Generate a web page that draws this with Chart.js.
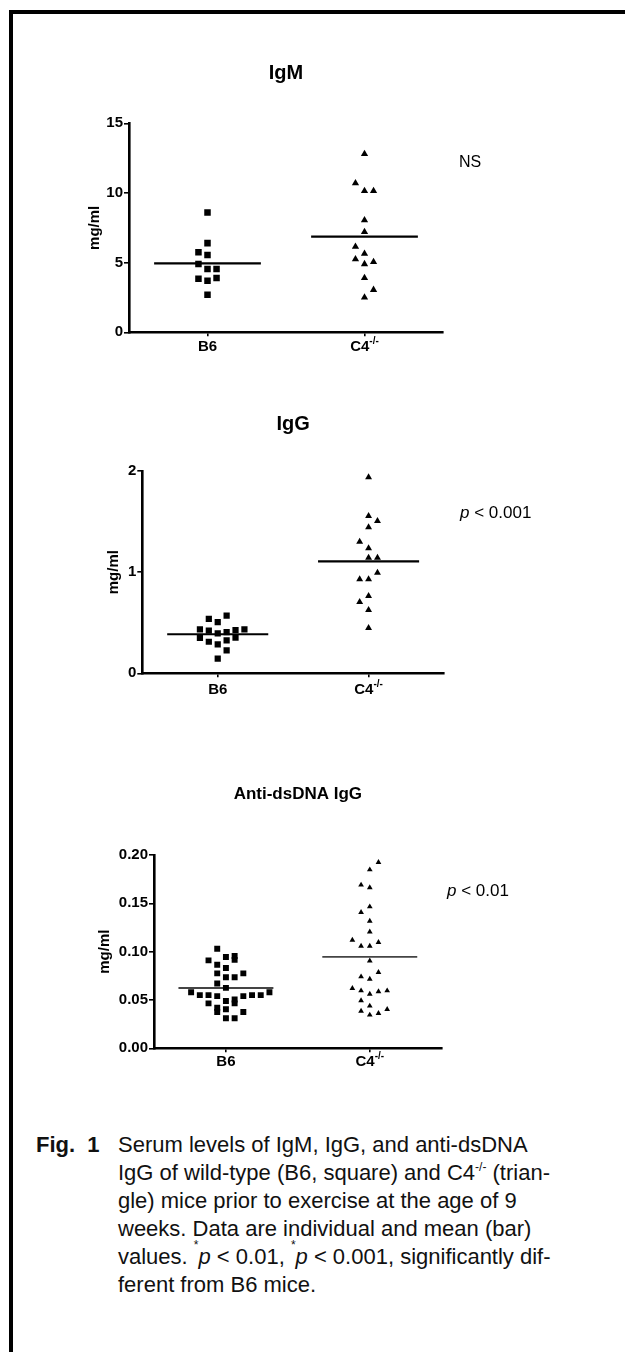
<!DOCTYPE html>
<html>
<head>
<meta charset="utf-8">
<title>Serum IgM, IgG and anti-dsDNA IgG</title>
<script src="https://cdn.jsdelivr.net/npm/chart.js@4.4.1/dist/chart.umd.min.js"></script>
<style>
  html, body { margin: 0; padding: 0; background: #fff; }
  body { position: relative; width: 625px; height: 1352px; overflow: hidden;
         font-family: "Liberation Sans", Arial, sans-serif; color: #000; }
  #frame { position: absolute; left: 9px; top: 10px; width: 650px; height: 1400px;
           border-top: 4px solid #000; border-left: 4px solid #000; }
  canvas { position: absolute; left: 0; }
  #caption { position: absolute; top: 1131px; left: 0; width: 625px; font-size: 22px;
             line-height: 28px; color: #111; white-space: nowrap; }
  #caption .fig { position: absolute; left: 36px; top: 0; font-weight: bold; }
  #caption .body { position: absolute; left: 118px; top: 0; }
  sup { font-size: 12px; line-height: 0; vertical-align: 9px; }
  sup.ast { vertical-align: 15px; }
</style>
</head>
<body>
<div id="frame"></div>
<canvas id="igm" width="625" height="340" style="top:30px"></canvas>
<canvas id="igg" width="625" height="330" style="top:380px"></canvas>
<canvas id="dsdna" width="625" height="340" style="top:740px"></canvas>
<div id="caption">
  <span class="fig">Fig.&nbsp; 1</span>
  <div class="body">Serum levels of IgM, IgG, and anti-dsDNA<br>IgG of wild-type (B6, square) and C4<sup>-/-</sup> (trian-<br>gle) mice prior to exercise at the age of 9<br>weeks. Data are individual and mean (bar)<br>values. <sup class="ast">*</sup><i>p</i> &lt; 0.01, <sup class="ast">*</sup><i>p</i> &lt; 0.001, significantly dif-<br>ferent from B6 mice.</div>
</div>
<script>
const FONT = '"Liberation Sans", Arial, sans-serif';

// groups on the x axis
const groups = ['B6', 'C4'];
const groupSup = ['', '-/-'];

// IgM (mg/ml)
const igmTicks = [0, 5, 10, 15];
const igmB6 = [8.6, 6.4, 5.75, 5.55, 4.9, 4.55, 4.55, 3.85, 3.9, 3.7, 2.7];
const igmB6Lane = [0, 0, -1, 0, -1, 0, 1, -1, 1, 0, 0];
const igmC4 = [12.8, 10.7, 10.15, 10.15, 8.05, 7.2, 6.15, 5.65, 5.25, 5.05, 4.9, 3.9, 3.05, 2.5];
const igmC4Lane = [0, -1, 0, 1, 0, 0, -1, 0, -1, 1, 0, 0, 1, 0];
const igmMean = [4.95, 6.86];

// IgG (mg/ml)
const iggTicks = [0, 1, 2];
const iggB6 = [0.537, 0.507, 0.57, 0.435, 0.421, 0.395, 0.408, 0.428, 0.435, 0.349, 0.312, 0.287, 0.326, 0.352, 0.227, 0.144];
const iggB6Lane = [-1, 0, 1, -2, -1, 0, 1, 2, 3, -2, -1, 0, 1, 2, 1, 0];
const iggC4 = [1.937, 1.555, 1.506, 1.443, 1.301, 1.236, 1.143, 1.143, 0.995, 0.929, 0.929, 0.764, 0.705, 0.626, 0.448];
const iggC4Lane = [0, 0, 1, 0, -1, 0, 0, 1, 1, -1, 0, 0, -1, 0, 0];
const iggMean = [0.386, 1.107];

// Anti-dsDNA IgG (mg/ml)
const dsTicks = [0, 0.05, 0.1, 0.15, 0.2];
const dsB6 = [0.103, 0.091, 0.0865, 0.0945, 0.0955, 0.0915, 0.083, 0.0775, 0.0775, 0.0735, 0.0735,
              0.067, 0.0625, 0.058, 0.055, 0.055, 0.054, 0.049, 0.0505, 0.0465, 0.054, 0.055,
              0.055, 0.058, 0.0465, 0.042, 0.0375, 0.0405, 0.0375, 0.031, 0.031];
const dsB6Lane = [-1, -2, -1, 0, 1, 1, 0, -1, 2, 0, 1, -1, 0, -4, -3, -2, -1, 0, 1, 1, 2, 3,
                  4, 5, -2, -1, -1, 0, 2, 0, 1];
const dsC4 = [0.1924, 0.1848, 0.169, 0.1662, 0.1465, 0.1407, 0.1317, 0.1206, 0.112, 0.1058, 0.1058, 0.1097,
              0.0906, 0.0786, 0.0741, 0.0717, 0.0621, 0.0596, 0.0562, 0.0586, 0.0596, 0.0493,
              0.0438, 0.0386, 0.0345, 0.0362, 0.0404];
const dsC4Lane = [1, 0, -1, 0, 0, -1, 0, 0, -2, -1, 0, 1,
                  0, 1, -1, 0, -2, -1, 0, 1, 2, -1, 0, -1, 0, 1, 2];
const dsMean = [0.0624, 0.0945];

// draws titles, axis label, group labels (with superscript) and the p-value note
const panelText = {
  id: 'panelText',
  afterDraw(chart, args, o) {
    const { ctx, chartArea: a } = chart;
    const xs = chart.scales.x;
    ctx.save();
    ctx.fillStyle = '#000';
    ctx.textBaseline = 'middle';

    ctx.font = `bold ${o.titleSize}px ${FONT}`;
    ctx.textAlign = 'center';
    ctx.fillText(o.title, (a.left + a.right) / 2, o.titleY);

    ctx.save();
    ctx.translate(o.yLabelX, (a.top + a.bottom) / 2);
    ctx.rotate(-Math.PI / 2);
    ctx.font = `bold 15px ${FONT}`;
    ctx.fillText('mg/ml', 0, 0);
    ctx.restore();

    ctx.textAlign = 'left';
    groups.forEach((g, i) => {
      ctx.font = `bold 15px ${FONT}`;
      const w1 = ctx.measureText(g).width;
      ctx.font = `bold 10px ${FONT}`;
      const w2 = groupSup[i] ? ctx.measureText(groupSup[i]).width : 0;
      const left = xs.getPixelForValue(i) - (w1 + w2) / 2;
      const y = a.bottom + o.labelGap;
      ctx.font = `bold 15px ${FONT}`;
      ctx.fillText(g, left, y);
      if (w2) {
        ctx.font = `bold 10px ${FONT}`;
        ctx.fillText(groupSup[i], left + w1, y - 6);
      }
    });

    let nx = o.noteX;
    if (o.noteItalic) {
      ctx.font = `italic ${o.noteSize}px ${FONT}`;
      ctx.fillText(o.noteItalic, nx, o.noteY);
      nx += ctx.measureText(o.noteItalic).width;
    }
    ctx.font = `${o.noteSize}px ${FONT}`;
    ctx.fillText(o.noteText, nx, o.noteY);
    ctx.restore();
  }
};

function makePanel(id, p) {
  const canvas = document.getElementById(id);
  const H = canvas.height;
  const pts = (vals, lanes, g) => vals.map((v, i) => ({ x: g + lanes[i] * p.laneStep, y: v }));
  const meanLine = g => [
    { x: g - p.meanHalf, y: p.mean[g] },
    { x: g + p.meanHalf, y: p.mean[g] }
  ];
  const axisGrid = len => ({
    display: true, drawOnChartArea: false, drawTicks: true,
    tickLength: len, color: '#000', lineWidth: 1.6
  });
  const axisBorder = { display: true, color: '#000', width: 2.6 };

  return new Chart(canvas, {
    type: 'scatter',
    data: {
      datasets: [
        { data: pts(p.b6, p.b6Lane, 0), pointStyle: 'rect', pointRadius: p.rectR,
          backgroundColor: '#000', borderWidth: 0 },
        { data: pts(p.c4, p.c4Lane, 1), pointStyle: 'triangle', pointRadius: p.triR,
          backgroundColor: '#000', borderWidth: 0 },
        { data: meanLine(0), showLine: true, pointRadius: 0,
          borderColor: p.meanColor, borderWidth: p.meanWidth },
        { data: meanLine(1), showLine: true, pointRadius: 0,
          borderColor: p.meanColor, borderWidth: p.meanWidth }
      ]
    },
    options: {
      responsive: false,
      animation: false,
      events: [],
      layout: { padding: { left: 0, right: 625 - p.right, top: p.top, bottom: 0 } },
      plugins: {
        legend: { display: false },
        tooltip: { enabled: false },
        panelText: p.text
      },
      scales: {
        x: {
          type: 'linear', min: -0.5, max: 1.5,
          afterBuildTicks: s => { s.ticks = groups.map((g, i) => ({ value: i })); },
          afterFit: s => { s.height = H - p.bottom; },
          ticks: { display: false },
          grid: axisGrid(4),
          border: axisBorder
        },
        y: {
          type: 'linear', min: p.ticks[0], max: p.ticks[p.ticks.length - 1],
          afterBuildTicks: s => { s.ticks = p.ticks.map(v => ({ value: v })); },
          afterFit: s => { s.width = p.left; },
          ticks: {
            color: '#000', padding: 1,
            font: { family: FONT, size: 15, weight: 'bold' },
            callback: v => p.fmt(v)
          },
          grid: axisGrid(5),
          border: axisBorder
        }
      }
    },
    plugins: [panelText]
  });
}

makePanel('igm', {
  ticks: igmTicks, b6: igmB6, b6Lane: igmB6Lane, c4: igmC4, c4Lane: igmC4Lane, mean: igmMean,
  fmt: v => String(v),
  left: 129, right: 443, top: 93.3, bottom: 302.3,
  laneStep: 0.0576, meanHalf: 0.34, meanColor: '#000', meanWidth: 2.2,
  rectR: 4.6, triR: 4.2,
  text: { title: 'IgM', titleSize: 20, titleY: 43, yLabelX: 95, labelGap: 15,
          noteItalic: '', noteText: 'NS', noteSize: 16, noteX: 459, noteY: 133 }
});

makePanel('igg', {
  ticks: iggTicks, b6: iggB6, b6Lane: iggB6Lane, c4: iggC4, c4Lane: iggC4Lane, mean: iggMean,
  fmt: v => String(v),
  left: 142.3, right: 444, top: 91, bottom: 293.3,
  laneStep: 0.059, meanHalf: 0.335, meanColor: '#000', meanWidth: 2.2,
  rectR: 4.4, triR: 4,
  text: { title: 'IgG', titleSize: 20, titleY: 44, yLabelX: 114, labelGap: 17,
          noteItalic: 'p', noteText: ' < 0.001', noteSize: 17, noteX: 460, noteY: 133 }
});

makePanel('dsdna', {
  ticks: dsTicks, b6: dsB6, b6Lane: dsB6Lane, c4: dsC4, c4Lane: dsC4Lane, mean: dsMean,
  fmt: v => v.toFixed(2),
  left: 154, right: 441.7, top: 115, bottom: 308.3,
  laneStep: 0.0605, meanHalf: 0.33, meanColor: '#444', meanWidth: 1.8,
  rectR: 4.2, triR: 3.3,
  text: { title: 'Anti-dsDNA IgG', titleSize: 17, titleY: 54, yLabelX: 105, labelGap: 14,
          noteItalic: 'p', noteText: ' < 0.01', noteSize: 17, noteX: 447, noteY: 151.7 }
});
</script>
</body>
</html>
